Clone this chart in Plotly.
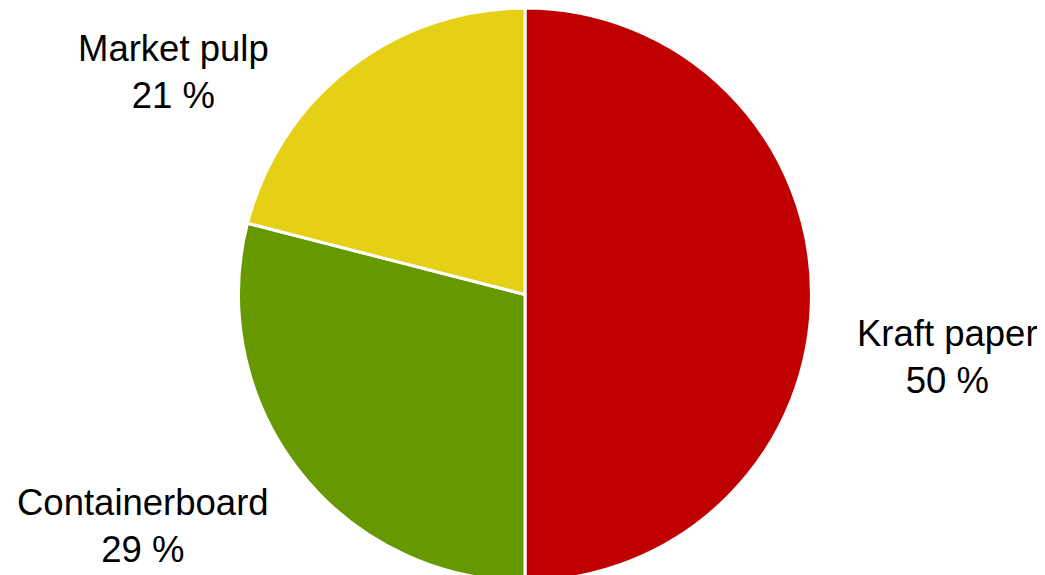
import plotly.graph_objects as go

labels = ["Kraft paper", "Containerboard", "Market pulp"]
values = [50, 29, 21]
colors = ["#C00000", "#669900", "#E5CF17"]

W, H = 1045, 575
# label anchor positions in figure pixels (from top-left)
label_px = [(939, 349), (135, 518), (165, 64)]

fig = go.Figure(
    go.Pie(
        labels=labels,
        values=values,
        marker=dict(colors=colors, line=dict(color="white", width=3)),
        sort=False,
        direction="clockwise",
        rotation=0,
        textinfo="none",
        hoverinfo="label+percent",
        domain=dict(x=[230.5 / W, 803.5 / W], y=[2 / H, 1]),
        showlegend=False,
    )
)

for lab, v, (px, py) in zip(labels, values, label_px):
    fig.add_annotation(
        x=px / W, y=1 - py / H, xref="paper", yref="paper",
        text=f"{lab}<br>{v} %",
        showarrow=False,
        xanchor="center", yanchor="middle",
        font=dict(family="Liberation Sans, Arial, sans-serif", size=36.5, color="black"),
    )

fig.update_layout(
    width=W, height=H,
    margin=dict(l=0, r=0, t=0, b=0),
    paper_bgcolor="white",
    plot_bgcolor="white",
)

fig.write_html("out.html")
